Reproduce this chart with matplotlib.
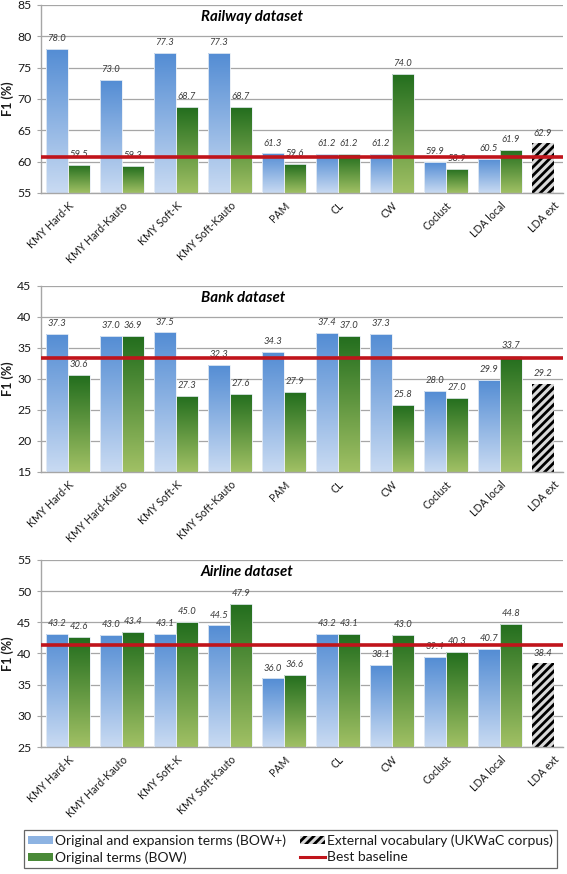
import numpy as np
import matplotlib.pyplot as plt
from matplotlib.patches import Patch
from matplotlib.lines import Line2D

plt.rcParams['font.family'] = ['Lato', 'DejaVu Sans']
plt.rcParams['hatch.linewidth'] = 2.0

methods = ['KMY Hard-K', 'KMY Hard-Kauto', 'KMY Soft-K', 'KMY Soft-Kauto', 'PAM',
           'CL', 'CW', 'Coclust', 'LDA local', 'LDA ext']

railway_bowp = [78.0, 73.0, 77.3, 77.3, 61.3, 61.2, 61.2, 59.9, 60.5]
railway_bow = [59.5, 59.3, 68.7, 68.7, 59.6, 61.2, 74.0, 58.9, 61.9]
railway_ext = 62.9
railway_base = 60.8

bank_bowp = [37.3, 37.0, 37.5, 32.3, 34.3, 37.4, 37.3, 28.0, 29.9]
bank_bow = [30.6, 36.9, 27.3, 27.6, 27.9, 37.0, 25.8, 27.0, 33.7]
bank_ext = 29.2
bank_base = 33.4

airline_bowp = [43.2, 43.0, 43.1, 44.5, 36.0, 43.2, 38.1, 39.4, 40.7]
airline_bow = [42.6, 43.4, 45.0, 47.9, 36.6, 43.1, 43.0, 40.3, 44.8]
airline_ext = 38.4
airline_base = 41.3

blue_top, blue_bot = np.array([84, 141, 212]) / 255, np.array([200, 218, 242]) / 255
green_top, green_bot = np.array([35, 110, 30]) / 255, np.array([160, 192, 100]) / 255
label_col = '#3A3A3A'
grid_col = '#A6A6A6'
text_col = '#1A1A1A'


def gradient_bars(ax, xs, vals, width, top, bot, ymin):
    bars = ax.bar(xs, np.array(vals) - ymin, width, bottom=ymin,
                  facecolor='none', edgecolor='#E8EEF5', lw=0.6, zorder=3)
    t = np.linspace(0, 1, 64)[:, None, None]
    img = bot + (top - bot) * t
    for b in bars:
        x0, y0 = b.get_x(), b.get_y()
        im = ax.imshow(img, extent=[x0, x0 + b.get_width(), y0, y0 + b.get_height()],
                       origin='lower', aspect='auto', zorder=2, interpolation='bilinear')
        im.set_clip_path(b)
    return bars


def add_labels(ax, xs, vals):
    for x, v in zip(xs, vals):
        ax.annotate(f'{v:.1f}', (x, v), xytext=(0, 7.5), textcoords='offset points',
                    ha='center', va='center', style='italic', fontsize=6.8,
                    color=label_col, zorder=4)


def plot_panel(ax, title, bowp, bow, ext, base, ylim):
    ymin, ymax = ylim
    n = len(bowp)
    x = np.arange(len(methods))
    w = 0.4
    off = 0.205
    gradient_bars(ax, x[:n] - off, bowp, w, blue_top, blue_bot, ymin)
    gradient_bars(ax, x[:n] + off, bow, w, green_top, green_bot, ymin)
    ax.bar(x[n] - off, ext - ymin, w, bottom=ymin, facecolor='#D9D9D9',
           edgecolor='black', hatch='////', lw=0, zorder=2)
    add_labels(ax, x[:n] - off, bowp)
    add_labels(ax, x[:n] + off, bow)
    add_labels(ax, [x[n] - off], [ext])
    ax.axhline(base, color='#C0141B', lw=2.6, zorder=5)

    ax.set_xlim(-0.5, 9.17)
    ax.set_ylim(ymin, ymax)
    ax.set_yticks(np.arange(ymin, ymax + 1, 5))
    ax.yaxis.grid(True, color=grid_col, lw=0.9, zorder=0)
    ax.set_axisbelow(True)
    for s in ['top', 'right']:
        ax.spines[s].set_visible(False)
    for s in ['left', 'bottom']:
        ax.spines[s].set_color(grid_col)
        ax.spines[s].set_linewidth(1.0)
    ax.set_xticks(x)
    ax.set_xticklabels(methods, rotation=45, ha='right', rotation_mode='anchor',
                       fontsize=7.6, color=text_col)
    ax.tick_params(axis='x', length=0, pad=5)
    ax.tick_params(axis='y', length=3, color=grid_col, labelsize=8.8, pad=4,
                   labelcolor=text_col)
    ax.set_ylabel('F1 (%)', fontsize=9, fontweight='bold', color=text_col)
    ax.yaxis.set_label_coords(-0.052, 0.5)
    ax.text(0.3065, 0.935, title, transform=ax.transAxes, ha='left', va='center',
            fontsize=10.8, fontweight='bold', style='italic', color='black')


fig = plt.figure(figsize=(5.67, 8.74), dpi=100)
ax1 = fig.add_axes([0.0723, 0.7792, 0.9206, 0.2151])
ax2 = fig.add_axes([0.0723, 0.4600, 0.9206, 0.2128])
ax3 = fig.add_axes([0.0723, 0.1453, 0.9206, 0.2140])

plot_panel(ax1, 'Railway dataset', railway_bowp, railway_bow, railway_ext, railway_base, (55, 85))
plot_panel(ax2, 'Bank dataset', bank_bowp, bank_bow, bank_ext, bank_base, (15, 45))
plot_panel(ax3, 'Airline dataset', airline_bowp, airline_bow, airline_ext, airline_base, (25, 55))

handles = [Patch(facecolor='#8DB3E2', edgecolor='none'),
           Patch(facecolor='#4A8A38', edgecolor='none'),
           Patch(facecolor='#D9D9D9', edgecolor='black', hatch='////', lw=0),
           Line2D([], [], color='#C0141B', lw=2.2)]
labels = ['Original and expansion terms (BOW+)', 'Original terms (BOW)',
          'External vocabulary (UKWaC corpus)', 'Best baseline']
leg = fig.legend(handles, labels, ncol=2, loc='center',
                 bbox_to_anchor=(0.0423, 0.0011, 0.940, 0.0549), mode='expand',
                 fontsize=10, frameon=True, fancybox=False, edgecolor='#404040',
                 handlelength=1.8, handleheight=0.5, handletextpad=0.15,
                 labelspacing=0.35, borderpad=0.3, borderaxespad=0)
leg.get_frame().set_linewidth(0.9)
for t in leg.get_texts():
    t.set_color(text_col)

fig.savefig('out.png', dpi=100)
